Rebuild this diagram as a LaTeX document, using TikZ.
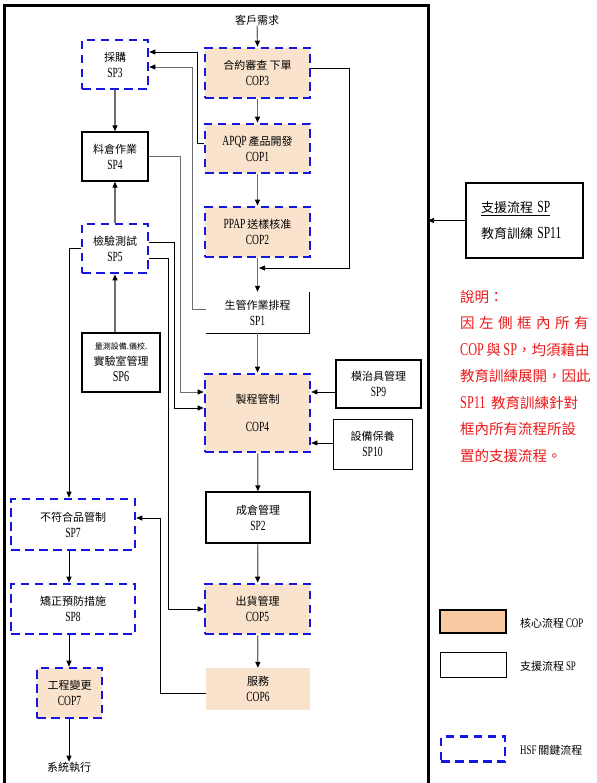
\documentclass[tikz,border=0pt]{standalone}
\usepackage{fontspec}
\setmainfont{Liberation Serif}[FakeStretch=0.68]
\newfontfamily\cjk{Noto Sans CJK TC}
\usetikzlibrary{arrows.meta}

\definecolor{peach}{RGB}{250,227,204}
\definecolor{peachdark}{RGB}{248,202,162}
\definecolor{hsfblue}{RGB}{22,22,225}
\definecolor{noteRed}{RGB}{236,24,24}
\definecolor{flowgray}{RGB}{110,110,110}

% Latin text at a given size, set in the serif family
\newcommand\lat[2]{{\rmfamily\fontsize{#1}{16}\selectfont #2}}
% two-line box label: Chinese name over the process code
\newcommand\boxtext[2]{{\cjk #1}\\\lat{14}{#2}}

\tikzset{
  base/.style={rectangle, inner sep=0pt, align=center, font=\fontsize{11}{16}\selectfont},
  core/.style={base, fill=peach},
  hsf/.style={draw=hsfblue, line width=2.6pt, dash pattern=on 8.5pt off 5.5pt},
  support/.style={base, draw=black, line width=1.4pt, fill=white},
  arr/.style={draw=black, line width=0.7pt, -{Triangle[length=6pt,width=5pt]}},
  garr/.style={draw=flowgray, line width=1.2pt, -{Triangle[length=6pt,width=5pt,color=black]}},
  glink/.style={draw=flowgray, line width=0.8pt, -{Triangle[length=6pt,width=5pt,color=black]}},
  label/.style={inner sep=0pt, font=\fontsize{11}{14}\selectfont},
}

\begin{document}
\begin{tikzpicture}[x=1pt,y=-1pt]
\useasboundingbox (0,0) rectangle (596,783);
\begin{scope}
\clip (0,0) rectangle (596,783);

% outer frame
\draw[line width=3pt] (4,783) -- (4,6) -- (428,6) -- (428,783);
\coordinate (frameR) at (428,216);

% core processes (main column)
\node[label] (req) at (257,20) {\cjk 客戶需求};
\node[core, hsf, minimum width=105pt, minimum height=50pt] (cop3) at (257.5,73) {\boxtext{合約審查 下單}{COP3}};
\node[core, hsf, minimum width=105pt, minimum height=49pt] (cop1) at (257.5,148.5) {\lat{14}{APQP} {\cjk 產品開發}\\\lat{14}{COP1}};
\node[core, hsf, minimum width=105pt, minimum height=50pt] (cop2) at (257.5,232) {\lat{14}{PPAP} {\cjk 送樣核准}\\\lat{14}{COP2}};
\node[base, minimum width=103pt, minimum height=41pt] (sp1) at (257.5,312.5) {\boxtext{生管作業排程}{SP1}};
\draw[line width=0.8pt] (sp1.north east) -- (sp1.south east) -- (sp1.south west);
\node[core, hsf, minimum width=105pt, minimum height=78pt] (cop4) at (257.5,413) {{\cjk 製程管制}\\[12pt]\lat{14}{COP4}};
\node[support, minimum width=104pt, minimum height=51pt] (sp2) at (258,517.5) {\boxtext{成倉管理}{SP2}};
\node[core, hsf, minimum width=105pt, minimum height=50pt] (cop5) at (257.5,609) {\boxtext{出貨管理}{COP5}};
\node[core, minimum width=104pt, minimum height=42pt] (cop6) at (258,689) {\boxtext{服務}{COP6}};

% support processes (left column)
\node[base, fill=white, hsf, minimum width=66pt, minimum height=49pt] (sp3) at (115,64.5) {\boxtext{採購}{SP3}};
\node[support, minimum width=66pt, minimum height=49pt] (sp4) at (115,156.5) {\boxtext{料倉作業}{SP4}};
\node[base, fill=white, hsf, minimum width=66pt, minimum height=49pt] (sp5) at (115,248.5) {\boxtext{檢驗測試}{SP5}};
\node[support, minimum width=78pt, minimum height=59pt] (sp6) at (121,362.5)
  {{\cjk\fontsize{8}{16}\selectfont 量測設備.儀校.}\\{\cjk 實驗室管理}\\\lat{15}{SP6}};
\node[base, fill=white, hsf, minimum width=124pt, minimum height=51pt] (sp7) at (73,524.5) {\boxtext{不符合品管制}{SP7}};
\node[base, fill=white, hsf, minimum width=124pt, minimum height=50pt] (sp8) at (73,609) {\boxtext{矯正預防措施}{SP8}};
\node[core, hsf, minimum width=65pt, minimum height=50pt] (cop7) at (69.5,693) {\boxtext{工程變更}{COP7}};
\node[label] (sys) at (69,767) {\cjk 系統執行};

% support processes (right of main column)
\node[support, minimum width=85pt, minimum height=48pt] (sp9) at (378.5,384) {\boxtext{模治具管理}{SP9}};
\node[support, line width=1pt, minimum width=79pt, minimum height=50pt] (sp10) at (372.5,444) {\boxtext{設備保養}{SP10}};

% main flow
\draw[garr] (req) -- (cop3.north);
\draw[garr] (cop3) -- (cop1);
\draw[garr] (cop1) -- (cop2);
\draw[garr] (cop2) -- (sp1.north);
\draw[garr] (sp1.south) -- (cop4.north);
\draw[garr] (cop4) -- (sp2);
\draw[garr] (sp2) -- (cop5);
\draw[garr] (cop5) -- (cop6);

\coordinate (merge) at (259,268);
\draw[arr] ([yshift=5pt]cop3.east) -| ([xshift=90pt]merge) -- (merge);

% feedback to purchasing
\draw[arr] ([yshift=5.5pt]cop1.west) -- ++(-6pt,0) |- ([yshift=12.5pt]sp3.east);
\draw[glink] ([yshift=3.5pt]sp1.west) -- ++(-13pt,0) |- ([yshift=-2.5pt]sp3.east);

% left column flow
\draw[garr] (sp3) -- (sp4);
\draw[garr] (sp5) -- (sp4);
\draw[garr] (sp6.north -| sp5) -- (sp5);

% links into the main column
\draw[glink] (sp4.east) -- ++(32pt,0) |- ([yshift=21pt]cop4.west);
\draw[arr] ([yshift=6.5pt]sp5.east) -- ++(25pt,0) |- ([yshift=5pt]cop4.west);
\draw[arr] ([yshift=-9.5pt]sp5.east) -- ++(19pt,0) |- (cop5.west);
\draw[arr] ([yshift=-8pt]sp9.west) -- ([yshift=-8pt]sp9.west -| cop4.east);
\draw[arr] ([yshift=1pt]sp10.west) -- ([yshift=1pt]sp10.west -| cop4.east);

% nonconformance chain
\draw[arr] (sp5.west) -| ([xshift=-4pt]sp7.north);
\draw[arr] ([yshift=-4pt]cop6.west) -- ++(-45pt,0) |- ([yshift=6.5pt]sp7.east);
\draw[arr] ([xshift=-4pt]sp7.south) -- ([xshift=-4pt]sp7.south |- sp8.north);
\draw[arr] ([xshift=-4pt]sp8.south) -- ([xshift=-0.5pt]cop7.north);
\draw[arr] ([xshift=-0.5pt]cop7.south) -- (sys);

% training support process
\node[support, minimum width=117pt, minimum height=75pt, align=left, text width=87pt, inner xsep=15pt,
  font=\fontsize{13}{26}\selectfont] (sp11) at (524.5,220.5)
  {\underline{{\cjk 支援流程} \lat{17}{SP}}\\{\cjk 教育訓練} \lat{17}{SP11}};
\draw[arr] (sp11.west) -- (sp11.west -| frameR);

% explanatory note
\node[anchor=north west, inner sep=0pt, align=left, text=noteRed, font=\fontsize{14.5}{26.5}\selectfont] (note) at (460,290)
  {{\cjk 說明：}\\
   {\cjk 因\hspace{4.5pt}左\hspace{4.5pt}側\hspace{4.5pt}框\hspace{4.5pt}內\hspace{4.5pt}所\hspace{4.5pt}有}\\
   \lat{18}{COP} {\cjk 與} \lat{18}{SP}{\cjk ，均須藉由}\\
   {\cjk 教育訓練展開，因此}\\
   \lat{18}{SP11} {\cjk\hspace{3pt}教育訓練針對}\\
   {\cjk 框內所有流程所設}\\
   {\cjk 置的支援流程。}};

% legend
\node[rectangle, draw=black, line width=1.2pt, fill=peachdark, minimum width=66pt, minimum height=23pt] (lgcore) at (473,621.5) {};
\node[label, anchor=west] (lgcoretext) at (520,623) {{\cjk 核心流程} \lat{13}{COP}};
\node[rectangle, draw=black, line width=1pt, minimum width=66pt, minimum height=25pt] (lgsup) at (473,664.5) {};
\node[label, anchor=west] (lgsuptext) at (520,666) {{\cjk 支援流程} \lat{13}{SP}};
\node[rectangle, hsf, minimum width=64pt, minimum height=25pt] (lghsf) at (473,749) {};
\node[label, anchor=west] (lghsftext) at (520,750) {\lat{13}{HSF} {\cjk 關鍵流程}};
\end{scope}
\end{tikzpicture}
\end{document}
